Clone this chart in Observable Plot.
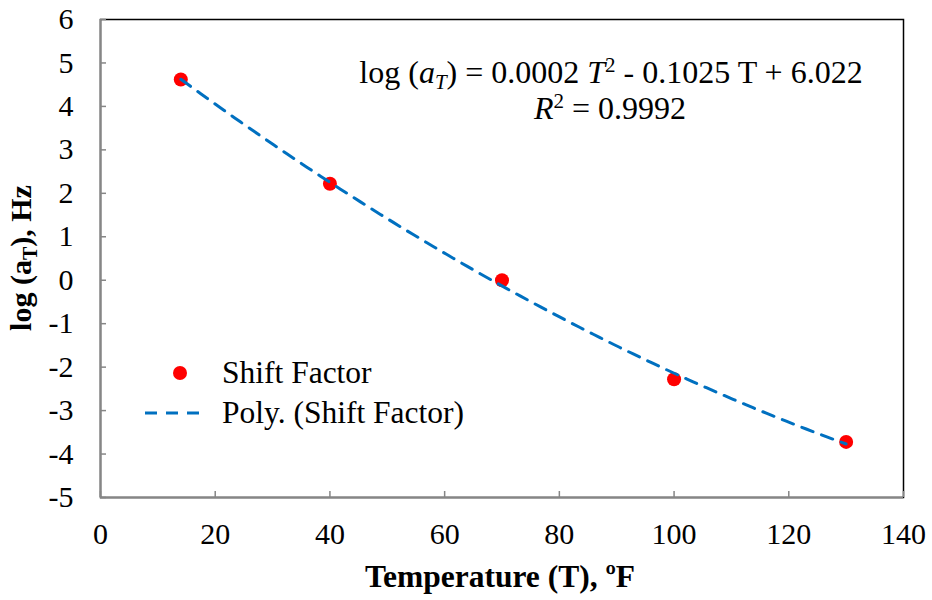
<!DOCTYPE html>
<html>
<head>
<meta charset="utf-8">
<script src="https://cdn.jsdelivr.net/npm/d3@7"></script>
<script src="https://cdn.jsdelivr.net/npm/@observablehq/plot@0.6"></script>
<style>
  html, body { margin: 0; padding: 0; background: #fff; }
  svg { display: block; }
  svg text, svg tspan { font-family: 'Liberation Serif', 'Times New Roman', serif; }
</style>
</head>
<body>
<div id="chart"></div>
<script>
// Data
const temperatures = [14, 40, 70, 100, 130];
const shiftFactors = [4.62, 2.22, 0.0, -2.28, -3.72];
const xTicks = [0, 20, 40, 60, 80, 100, 120, 140];
const yTicks = [-5, -4, -3, -2, -1, 0, 1, 2, 3, 4, 5, 6];
const equationText = ["log (", "a", "T", ") = 0.0002 ", "T", "2", " - 0.1025 T + 6.022"];
const r2Text = ["R", "2", " = 0.9992"];
const legendLabels = ["Shift Factor", "Poly. (Shift Factor)"];

const points = temperatures.map((t, i) => ({T: t, a: shiftFactors[i]}));

// Quadratic least-squares trendline (Excel "Poly." order 2) fitted to the points
function quadFit(xs, ys) {
  const n = xs.length;
  let S = [0,0,0,0,0], B = [0,0,0];
  for (let i = 0; i < n; i++) {
    const x = xs[i], y = ys[i];
    for (let k = 0; k < 5; k++) S[k] += Math.pow(x, k);
    for (let k = 0; k < 3; k++) B[k] += y * Math.pow(x, k);
  }
  const M = [[S[0],S[1],S[2],B[0]],[S[1],S[2],S[3],B[1]],[S[2],S[3],S[4],B[2]]];
  for (let c = 0; c < 3; c++) {
    for (let r = c + 1; r < 3; r++) {
      const f = M[r][c] / M[c][c];
      for (let k = c; k < 4; k++) M[r][k] -= f * M[c][k];
    }
  }
  const coef = [0,0,0];
  for (let r = 2; r >= 0; r--) {
    let s = M[r][3];
    for (let k = r + 1; k < 3; k++) s -= M[r][k] * coef[k];
    coef[r] = s / M[r][r];
  }
  return coef;
}
const [c0, c1, c2] = quadFit(temperatures, shiftFactors);
const tMin = d3.min(temperatures), tMax = d3.max(temperatures);
const trend = d3.range(0, 101).map(i => {
  const t = tMin + (tMax - tMin) * i / 100;
  return {T: t, a: c0 + c1 * t + c2 * t * t};
});

const FONT = "'Liberation Serif', 'Times New Roman', serif";
const RED = "#FF0000";
const BLUE = "#0070C0";
const AXIS = "#868686";
const DASH = "12,9";

const plot = Plot.plot({
  width: 932,
  height: 600,
  marginLeft: 100,
  marginRight: 29,
  marginTop: 19,
  marginBottom: 103,
  style: {fontFamily: FONT, fontSize: "30px", color: "#000", background: "#fff"},
  x: {domain: [0, 140], ticks: xTicks},
  y: {domain: [-5, 6], ticks: yTicks},
  marks: [
    Plot.frame({stroke: "#000", strokeWidth: 1.5}),
    Plot.ruleX([0], {stroke: AXIS, strokeWidth: 2}),
    Plot.ruleY([-5], {stroke: AXIS, strokeWidth: 2}),
    // inward tick marks
    Plot.axisY(yTicks, {tickSize: 6, dx: 6, tickFormat: () => "", label: null, stroke: AXIS, strokeWidth: 1.5}),
    Plot.axisX(xTicks, {tickSize: 6, dy: -6, tickFormat: () => "", label: null, stroke: AXIS, strokeWidth: 1.5}),
    // tick labels
    Plot.axisY(yTicks, {tickSize: 0, tickPadding: 27, dy: 0, label: null, fontSize: 30, fill: "#000", tickFormat: d => String(d)}),
    Plot.axisX(xTicks, {tickSize: 0, tickPadding: 25, label: null, fontSize: 30, fill: "#000", tickFormat: d => String(d)}),
    Plot.dot(points, {x: "T", y: "a", r: 7, fill: RED, stroke: null}),
    Plot.line(trend, {x: "T", y: "a", stroke: BLUE, strokeWidth: 3, strokeDasharray: DASH})
  ]
});

document.getElementById("chart").appendChild(plot);

const svg = d3.select(plot);

function rich(parent, parts, styles) {
  parts.forEach((p, i) => {
    const s = styles[i] || {};
    const ts = parent.append("tspan").text(p);
    if (s.italic) ts.style("font-style", "italic");
    if (s.dy) ts.attr("dy", s.dy);
    if (s.size) ts.style("font-size", s.size + "px");
  });
}
function txt(x, y, anchor, bold, size) {
  return svg.append("text")
    .attr("x", x).attr("y", y)
    .style("font-family", FONT)
    .style("text-anchor", anchor)
    .style("font-size", size + "px")
    .style("font-weight", bold ? "bold" : "normal")
    .style("fill", "#000");
}

// Equation
const eq1 = txt(611, 83, "middle", false, 32);
rich(eq1, equationText, [
  {}, {italic: true}, {italic: true, dy: 6, size: 21}, {dy: -6}, {italic: true}, {size: 21, dy: -11}, {dy: 11}
]);
const eq2 = txt(610, 119, "middle", false, 32);
rich(eq2, r2Text, [{italic: true}, {size: 21, dy: -11}, {dy: 11}]);

// Y axis title
const yl = txt(0, 0, "middle", true, 30).attr("transform", "translate(31,258) rotate(-90)");
rich(yl, ["log (a", "T", "), Hz"], [{}, {size: 20, dy: 6}, {dy: -6}]);

// X axis title
txt(500, 587, "middle", true, 31.5).text("Temperature (T), ºF");

// Legend
svg.append("circle").attr("cx", 180).attr("cy", 373).attr("r", 7).attr("fill", RED);
txt(222, 383, "start", false, 31.5).text(legendLabels[0]);
svg.append("line").attr("x1", 145).attr("x2", 205).attr("y1", 413).attr("y2", 413)
  .attr("stroke", BLUE).attr("stroke-width", 3).attr("stroke-dasharray", DASH);
txt(222, 423, "start", false, 31.5).text(legendLabels[1]);
</script>
</body>
</html>
